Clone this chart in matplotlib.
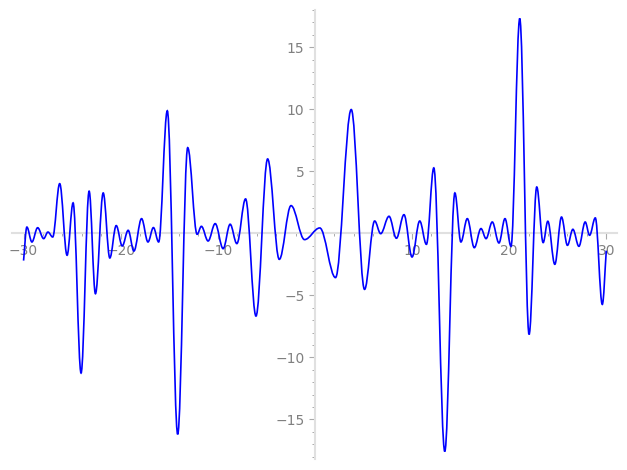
import matplotlib
matplotlib.use("Agg")
import matplotlib.pyplot as plt
from matplotlib.path import Path
from matplotlib.patches import PathPatch
from matplotlib.ticker import MultipleLocator, FuncFormatter

# turning points of the curve (start, extrema, end)
x_pts = [-30.0, -29.66, -29.14, -28.55, -27.93, -27.49, -27.0, -26.28, -25.52, -24.9,
         -24.08, -23.25, -22.6, -21.8, -21.12, -20.46, -19.84, -19.23, -18.64, -17.85,
         -17.19, -16.63, -16.09, -15.2, -14.13, -13.1, -12.13, -11.69, -11.0, -10.27,
         -9.45, -8.73, -8.04, -7.14, -6.07, -4.87, -3.67, -2.46, -1.07, 0.5,
         2.12, 3.74, 5.11, 6.15, 6.77, 7.63, 8.39, 9.17, 10.0, 10.79,
         11.48, 12.24, 13.37, 14.41, 15.03, 15.69, 16.41, 17.1, 17.62, 18.26,
         18.95, 19.57, 20.19, 21.09, 22.05, 22.84, 23.5, 23.98, 24.7, 25.39,
         26.0, 26.56, 27.18, 27.83, 28.28, 28.87, 29.59, 30.0]
y_pts = [-2.2, 0.5, -0.7, 0.45, -0.43, 0.1, -0.3, 4.0, -1.77, 2.45,
         -11.26, 3.39, -4.87, 3.25, -1.99, 0.62, -1.02, 0.24, -1.43, 1.18,
         -0.7, 0.46, -0.7, 9.87, -16.2, 6.9, -0.08, 0.56, -0.62, 0.78,
         -1.24, 0.73, -0.83, 2.77, -6.67, 5.99, -2.1, 2.23, -0.51, 0.43,
         -3.57, 9.97, -4.52, 0.99, -0.03, 1.37, -0.4, 1.5, -1.91, 0.99,
         -0.89, 5.27, -17.58, 3.25, -0.7, 1.18, -1.16, 0.38, -0.43, 0.91,
         -0.78, 1.18, -1.05, 17.31, -8.15, 3.73, -0.75, 0.97, -2.5, 1.31,
         -0.97, 0.32, -1.05, 0.91, -0.16, 1.24, -5.73, -1.4]

x_ticks = [-30, -20, -10, 10, 20, 30]
y_ticks = [-15, -10, -5, 5, 10, 15]

K = 0.36  # bezier handle length, gives a sine-like swing between extrema


def curve_path(xs, ys):
    """Cubic bezier through the points, flat tangents at the extrema."""
    verts = [(xs[0], ys[0])]
    codes = [Path.MOVETO]
    n = len(xs)
    for i in range(n - 1):
        dx = xs[i + 1] - xs[i]
        dy = ys[i + 1] - ys[i]
        if i == 0:
            c1 = (xs[i] + dx / 3, ys[i] + dy / 3)
        else:
            c1 = (xs[i] + K * dx, ys[i])
        if i == n - 2:
            c2 = (xs[i + 1] - dx / 3, ys[i + 1] - dy / 3)
        else:
            c2 = (xs[i + 1] - K * dx, ys[i + 1])
        verts += [c1, c2, (xs[i + 1], ys[i + 1])]
        codes += [Path.CURVE4] * 3
    return Path(verts, codes)


def fmt(v, pos):
    if abs(v) < 1e-9:
        return ""
    return f"{v:g}".replace("-", "\u2212")


fig = plt.figure(figsize=(6.27, 4.70), dpi=100)
ax = fig.add_axes([0.019, 0.023, 0.965, 0.956])

ax.add_patch(PathPatch(curve_path(x_pts, y_pts), facecolor="none",
                       edgecolor="blue", linewidth=1.2, zorder=3))

ax.set_xlim(-31.2, 31.1)
ax.set_ylim(-18.2, 18.0)

for side in ("top", "right"):
    ax.spines[side].set_visible(False)
for side in ("left", "bottom"):
    ax.spines[side].set_position(("data", 0))
    ax.spines[side].set_color("#e0e0e0")
    ax.spines[side].set_linewidth(1.5)

ax.set_xticks(x_ticks)
ax.set_yticks(y_ticks)
ax.xaxis.set_minor_locator(MultipleLocator(2))
ax.yaxis.set_minor_locator(MultipleLocator(1))
ax.xaxis.set_major_formatter(FuncFormatter(fmt))
ax.yaxis.set_major_formatter(FuncFormatter(fmt))

ax.tick_params(which="major", length=4, width=0.8, color="#aaaaaa",
               labelcolor="#808080", labelsize=10)
ax.tick_params(which="minor", length=2.5, width=0.7, color="#aaaaaa")

fig.savefig("out.png", dpi=100)
